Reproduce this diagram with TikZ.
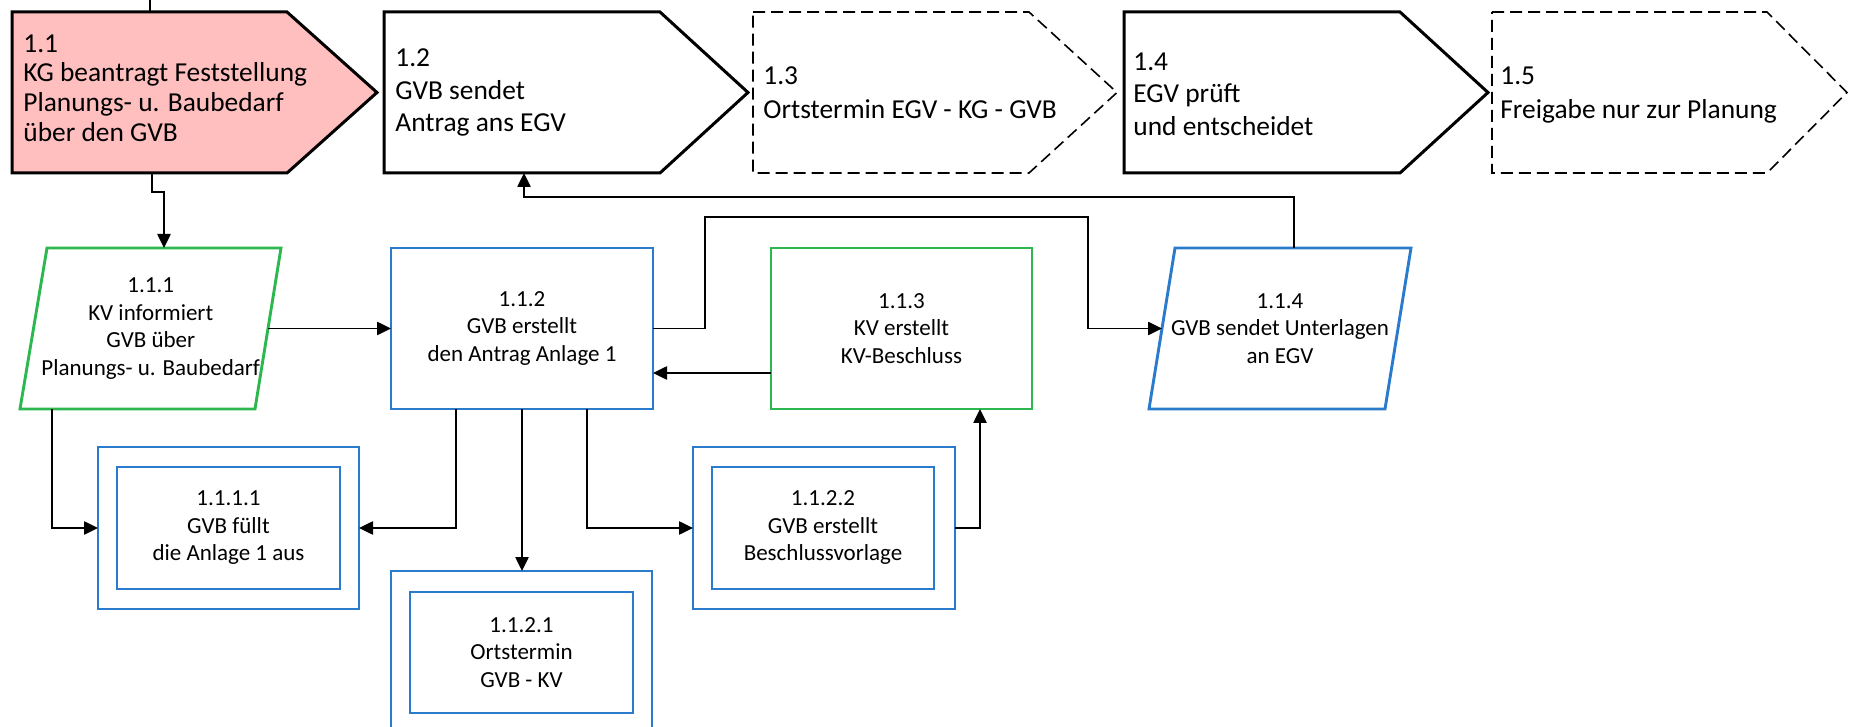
\documentclass[tikz,border=0pt]{standalone}
\usepackage{fontspec}
\setmainfont{Carlito}
\usetikzlibrary{arrows.meta,calc}
\definecolor{pinkfill}{HTML}{FFBFBF}
\definecolor{bgreen}{HTML}{2DB84F}
\definecolor{bblue}{HTML}{2A7BCB}
\begin{document}
\begin{tikzpicture}[x=0.5pt,y=-0.5pt,
  body/.style={draw=none,inner sep=0pt,outer sep=0pt,minimum height=80.5pt},
  phase/.style={draw=black,line width=1.5pt,line join=miter},
  phasedash/.style={draw=black,line width=0.8pt,dash pattern=on 6pt off 3pt},
  toptext/.style={font=\fontsize{13.7}{16.3}\selectfont,align=left,anchor=west,inner sep=0pt},
  lowtext/.style={font=\fontsize{11.5}{13.75}\selectfont,align=center},
  gbox/.style={draw=bgreen,line width=1.45pt},
  bbox/.style={draw=bblue,line width=1.45pt},
  thinb/.style={draw=bblue,line width=0.9pt,inner sep=0pt,outer sep=0pt},
  conn/.style={draw=black,line width=0.95pt},
  arr/.style={conn,-{Triangle[length=7pt,width=6.6pt]}}]
\useasboundingbox (0,0) rectangle (1849,727);
\clip (0,0) rectangle (1849,727);
% ---------- top row bodies
\node[body,minimum width=137.5pt] (b11) at (149.5,92.5) {};
\node[body,minimum width=138pt] (b12) at (522,92.5) {};
\node[body,minimum width=138pt] (b13) at (891,92.5) {};
\node[body,minimum width=138pt] (b14) at (1262,92.5) {};
\node[body,minimum width=137.5pt] (b15) at (1629.5,92.5) {};
\draw[phase,fill=pinkfill] (b11.north west) -- (b11.north east) -- ($(b11.east)+(90,0)$) -- (b11.south east) -- (b11.south west) -- cycle;
\draw[phase] (b12.north west) -- (b12.north east) -- ($(b12.east)+(88,0)$) -- (b12.south east) -- (b12.south west) -- cycle;
\draw[phasedash] (b13.north west) -- (b13.north east) -- ($(b13.east)+(88,0)$) -- (b13.south east) -- (b13.south west) -- cycle;
\draw[phase] (b14.north west) -- (b14.north east) -- ($(b14.east)+(88,0)$) -- (b14.south east) -- (b14.south west) -- cycle;
\draw[phasedash] (b15.north west) -- (b15.north east) -- ($(b15.east)+(80,0)$) -- (b15.south east) -- (b15.south west) -- cycle;
\node[toptext,font=\fontsize{13.7}{14.85}\selectfont] (t11) at (23,88) {1.1\\KG beantragt Feststellung\\Planungs- u. Baubedarf\\über den GVB};
\node[toptext] (t12) at (395,92.5) {1.2\\GVB sendet\\Antrag ans EGV};
\node[toptext,font=\fontsize{13.7}{17}\selectfont] (t13) at (763,93) {1.3\\Ortstermin EGV - KG - GVB};
\node[toptext] (t14) at (1133,94) {1.4\\EGV prüft\\und entscheidet};
\node[toptext,font=\fontsize{13.7}{16.8}\selectfont] (t15) at (1500,95) {1.5\\Freigabe nur zur Planung};
% ---------- second row
\node[body,minimum width=117.25pt,lowtext] (n111) at (150.75,328.5) {1.1.1\\KV informiert\\GVB über\\Planungs- u. Baubedarf};
\draw[gbox] (47,248) -- (281,248) -- (255,409) -- (20,409) -- cycle;
\node[bbox,inner sep=0pt,outer sep=0pt,minimum width=131pt,minimum height=80.5pt,lowtext] (n112) at (522,328.5) {1.1.2\\GVB erstellt\\den Antrag Anlage 1};
\node[gbox,inner sep=0pt,outer sep=0pt,minimum width=130.5pt,minimum height=80.5pt,lowtext] (n113) at (901.5,328.5) {1.1.3\\KV erstellt\\KV-Beschluss};
\node[body,minimum width=118pt,lowtext] (n114) at (1280,328.5) {1.1.4\\GVB sendet Unterlagen\\an EGV};
\draw[bbox] (1175,248) -- (1411,248) -- (1385,409) -- (1149,409) -- cycle;
% ---------- third row
\node[thinb,minimum width=130.5pt,minimum height=81pt] (n1111o) at (228.5,528) {};
\node[thinb,minimum width=111.5pt,minimum height=61pt,lowtext] (n1111) at (228.5,528) {1.1.1.1\\GVB füllt\\die Anlage 1 aus};
\node[thinb,minimum width=130.5pt,minimum height=81pt] (n1121o) at (521.5,652) {};
\node[thinb,minimum width=111.5pt,minimum height=60.5pt,lowtext] (n1121) at (521.5,652.5) {1.1.2.1\\Ortstermin\\GVB - KV};
\node[thinb,minimum width=131pt,minimum height=81pt] (n1122o) at (824,528) {};
\node[thinb,minimum width=111pt,minimum height=61pt,lowtext] (n1122) at (823,528) {1.1.2.2\\GVB erstellt\\Beschlussvorlage};
% ---------- connectors
\coordinate (topin) at (150,0);
\draw[conn,line width=1.3pt] (topin) -- (topin |- b11.north);
\draw[arr] ([xshift=1.25pt]b11.south) -- ++(0,19) -| (164,0 |- n111.north);
\draw[arr] (n111.east) -- (n112.west);
\draw[arr] (n113.west |- 0,373) -- (n112.east |- 0,373);
\draw[arr] (n112.east) -- (705,328.5) |- (1088,217) |- (n114.west);
\draw[arr] (1294,0 |- n114.north) -- (1294,197) -| (524,0 |- b12.south);
\draw[arr] (52,0 |- n111.south) |- (n1111o.west);
\draw[arr] (456,0 |- n112.south) |- (n1111o.east);
\draw[arr] (n112.south) -- (n112.south |- n1121o.north);
\draw[arr] (587,0 |- n112.south) |- (n1122o.west);
\draw[arr] (n1122o.east) -| (980,0 |- n113.south);
\end{tikzpicture}
\end{document}
